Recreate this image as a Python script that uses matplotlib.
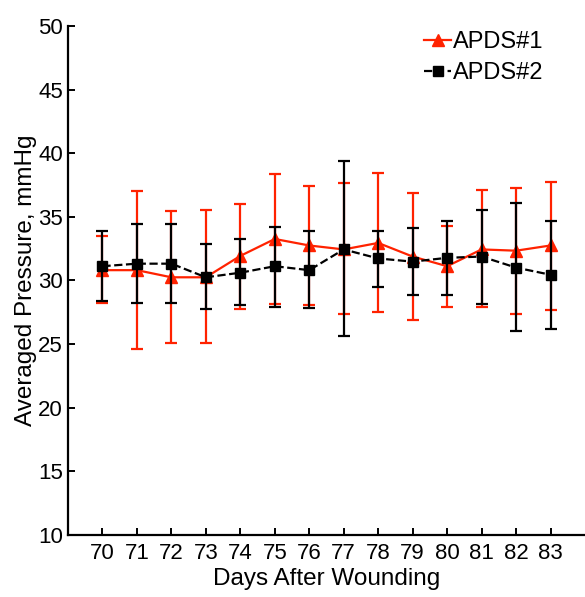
import numpy as np
import matplotlib.pyplot as plt

plt.rcParams['font.family'] = ['Liberation Sans', 'DejaVu Sans']

days = [70, 71, 72, 73, 74, 75, 76, 77, 78, 79, 80, 81, 82, 83]

# APDS#1 (red): mean, upper and lower end of the error bar
apds1 = [30.81, 30.81, 30.25, 30.25, 31.93, 33.26, 32.75, 32.44, 32.95, 31.88, 31.12, 32.44, 32.34, 32.75]
apds1_hi = [33.47, 37.04, 35.46, 35.51, 36.02, 38.37, 37.45, 37.65, 38.42, 36.84, 34.28, 37.14, 37.29, 37.70]
apds1_lo = [28.26, 24.58, 25.09, 25.09, 27.74, 28.15, 28.05, 27.39, 27.49, 26.93, 27.94, 27.89, 27.39, 27.69]

# APDS#2 (black)
apds2 = [31.12, 31.32, 31.32, 30.25, 30.61, 31.12, 30.81, 32.44, 31.73, 31.48, 31.78, 31.88, 31.01, 30.45]
apds2_hi = [33.87, 34.44, 34.44, 32.85, 33.26, 34.23, 33.87, 39.39, 33.87, 34.13, 34.69, 35.56, 36.07, 34.69]
apds2_lo = [28.36, 28.26, 28.26, 27.74, 28.05, 27.94, 27.84, 25.60, 29.48, 28.82, 28.82, 28.15, 26.06, 26.21]

fig = plt.figure(figsize=(5.85, 5.97), dpi=100)
ax = fig.add_axes([0.1162, 0.1039, 0.8838, 0.8526])

red = '#ff2200'
y1 = np.array(apds1)
e1 = [y1 - np.array(apds1_lo), np.array(apds1_hi) - y1]
eb1 = ax.errorbar(days, apds1, yerr=e1, color=red, marker='^', markersize=8, lw=1.6,
                  elinewidth=1.6, capsize=4, capthick=1.6, zorder=2)

y2 = np.array(apds2)
e2 = [y2 - np.array(apds2_lo), np.array(apds2_hi) - y2]
eb2 = ax.errorbar(days, apds2, yerr=e2, color='black', marker='s', markersize=7.5, lw=1.6,
                  ls='--', elinewidth=1.6, capsize=4, capthick=1.6, zorder=3)

ax.set_xlim(69, 84)
ax.set_ylim(10, 50)
ax.set_xticks(days)
ax.set_yticks(range(10, 51, 5))
ax.tick_params(direction='in', labelsize=16, length=5, width=1.4)
ax.tick_params(axis='x', pad=6)
for s in ['top', 'right']:
    ax.spines[s].set_visible(False)
for s in ['left', 'bottom']:
    ax.spines[s].set_linewidth(1.6)

ax.set_xlabel('Days After Wounding', fontsize=17.5, labelpad=3)
ax.set_ylabel('Averaged Pressure, mmHg', fontsize=17.5, labelpad=1)

ax.legend([eb1[0], eb2[0]], ['APDS#1', 'APDS#2'], loc='upper left', frameon=False,
          fontsize=17, handlelength=1.15, handletextpad=0.08, borderpad=0,
          borderaxespad=0, labelspacing=0.4,
          bbox_to_anchor=(424 / 585, 1 - 31 / 597), bbox_transform=fig.transFigure)

fig.savefig('out.png', dpi=100)
